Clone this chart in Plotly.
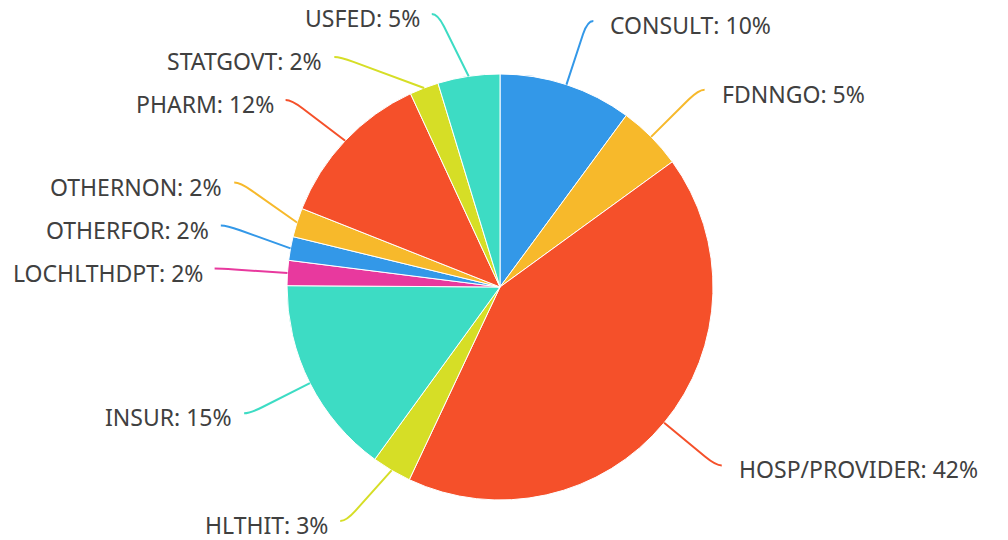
import math
import plotly.graph_objects as go

labels = ["CONSULT", "FDNNGO", "HOSP/PROVIDER", "HLTHIT", "INSUR", "LOCHLTHDPT",
          "OTHERFOR", "OTHERNON", "PHARM", "STATGOVT", "USFED"]
values = [10.1, 4.9, 42.0, 3.0, 15.1, 1.9, 1.8, 2.2, 12.1, 2.2, 4.7]
colors = ["#3398E8", "#F7B92B", "#F5502A", "#D6DE26", "#3DDCC4", "#E8399E",
          "#3398E8", "#F7B92B", "#F5502A", "#D6DE26", "#3DDCC4"]

W, H = 1008, 540
CX, CY, R = 500, 287, 213
R_LABEL = 280
GAP = 43
Y_MIN, Y_MAX = 14, 521

fig = go.Figure(go.Pie(
    labels=labels, values=values, sort=False, direction="clockwise", rotation=0,
    marker=dict(colors=colors, line=dict(color="white", width=1)),
    textinfo="none", hoverinfo="label+percent", showlegend=False,
    domain=dict(x=[(CX - R) / W, (CX + R) / W], y=[(H - CY - R) / H, (H - CY + R) / H]),
))

total = sum(values)
items = []
cum = 0.0
for lab, v, c in zip(labels, values, colors):
    mid = (cum + v / 2) / total * 2 * math.pi
    cum += v
    sx = CX + R * math.sin(mid)
    sy = CY - R * math.cos(mid)
    ex = CX + R_LABEL * math.sin(mid)
    ey = CY - R_LABEL * math.cos(mid)
    side = 1 if math.sin(mid) >= 0 else -1
    pct = round(v / total * 100)
    items.append(dict(lab=lab, c=c, sx=sx, sy=sy, ex=ex, ey=ey, ey0=ey, side=side,
                      text=f"{lab}: {pct}%"))

# overlap avoidance per side: push up from bottom, then push down from top
for side in (1, -1):
    grp = sorted([it for it in items if it["side"] == side], key=lambda d: d["ey"])
    nxt = Y_MAX + GAP
    for it in reversed(grp):
        it["ey"] = min(it["ey"], nxt - GAP)
        nxt = it["ey"]
    prev = Y_MIN - GAP
    for it in grp:
        it["ey"] = max(it["ey"], prev + GAP)
        prev = it["ey"]
    for it in grp:
        if abs(it["ey"] - it["ey0"]) > 0.5:
            dy = it["ey"] - CY
            it["ex"] = CX + side * math.sqrt(max(R_LABEL ** 2 - dy ** 2, 0))

px = lambda x: x / W
py = lambda y: 1 - y / H

shapes = []
annotations = []
for it in items:
    dx, dy = it["ex"] - it["sx"], it["ey"] - it["sy"]
    L = math.hypot(dx, dy)
    ax, ay = it["ex"] - 14 * dx / L, it["ey"] - 14 * dy / L
    p2x = it["ex"] + it["side"] * 6
    path = (f"M {px(it['sx'])},{py(it['sy'])} L {px(ax)},{py(ay)} "
            f"Q {px(it['ex'])},{py(it['ey'])} {px(p2x)},{py(it['ey'])}")
    shapes.append(dict(type="path", xref="paper", yref="paper", path=path,
                       line=dict(color=it["c"], width=2)))
    tgap = 15 if it["side"] > 0 else 10
    annotations.append(dict(
        x=px(p2x + it["side"] * tgap), y=py(it["ey"] + 4), xref="paper", yref="paper",
        text=it["text"], showarrow=False,
        xanchor="left" if it["side"] > 0 else "right", yanchor="middle",
        font=dict(family="Noto Sans", size=23, color="#404040"),
    ))

fig.update_layout(
    width=W, height=H, margin=dict(l=0, r=0, t=0, b=0),
    paper_bgcolor="white", plot_bgcolor="white",
    shapes=shapes, annotations=annotations,
)
fig.write_html("out.html")
